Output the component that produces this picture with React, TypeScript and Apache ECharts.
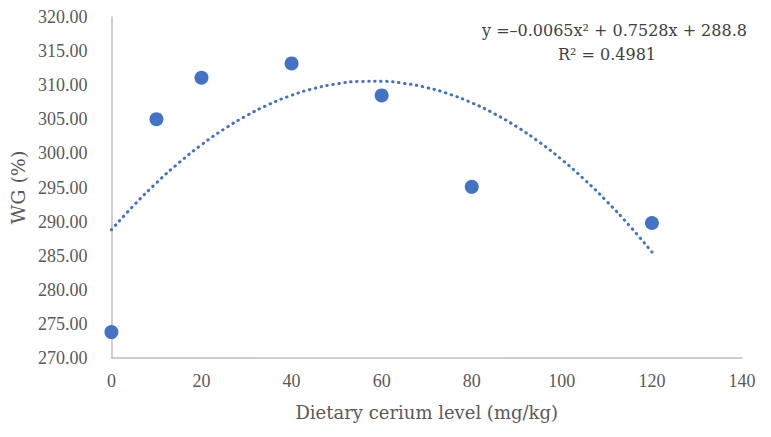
import React, { useEffect, useRef } from "react";
import * as echarts from "echarts";

const doseLevels = [0, 10, 20, 40, 60, 80, 120];
const wgValues = [273.8, 305.0, 311.1, 313.2, 308.5, 295.1, 289.8];
// Polynomial trendline coefficients as printed on the chart
const trendCoefficients = [-0.0065, 0.7528, 288.8];
const trendXs = [0, 5, 10, 15, 20, 25, 30, 35, 40, 45, 50, 55, 60, 65, 70, 75, 80, 85, 90, 95, 100, 105, 110, 115, 120];
const equationText = "y =–0.0065x² + 0.7528x + 288.8";
const r2Text = "R² = 0.4981";

const FONT = "'Liberation Serif', serif";
const WIDE = "'DejaVu Serif', serif";
const BLUE = "#4472C4";

export default function App() {
  const ref = useRef<HTMLDivElement>(null);
  useEffect(() => {
    if (!ref.current) return;
    const chart = echarts.init(ref.current, undefined, { renderer: "svg" });
    const [a, b, c] = trendCoefficients;
    const trend = trendXs.map((x) => [x, a * x * x + b * x + c]);
    chart.setOption({
      animation: false,
      backgroundColor: "#ffffff",
      grid: { left: 111, right: 29, top: 17, bottom: 79 },
      xAxis: {
        type: "value",
        min: 0,
        max: 140,
        interval: 20,
        name: "Dietary cerium level (mg/kg)",
        nameLocation: "middle",
        nameGap: 45,
        nameTextStyle: { fontFamily: WIDE, fontSize: 18, color: "#595959" },
        axisLine: { show: true, lineStyle: { color: "#bfbfbf", width: 1.5 } },
        axisTick: { show: false },
        splitLine: { show: false },
        axisLabel: { fontFamily: FONT, fontSize: 18, color: "#595959", margin: 14 },
      },
      yAxis: {
        type: "value",
        min: 270,
        max: 320,
        interval: 5,
        name: "WG (%)",
        nameLocation: "middle",
        nameGap: 82,
        nameRotate: 90,
        nameTextStyle: { fontFamily: WIDE, fontSize: 19, color: "#595959" },
        axisLine: { show: true, lineStyle: { color: "#bfbfbf", width: 1.5 } },
        axisTick: { show: false },
        splitLine: { show: false },
        axisLabel: {
          fontFamily: FONT,
          fontSize: 18,
          color: "#595959",
          margin: 24,
          formatter: (v: number) => v.toFixed(2),
        },
      },
      graphic: [
        {
          type: "text",
          left: 482,
          top: 22,
          style: { text: equationText, fontFamily: WIDE, fontSize: 16, fill: "#404040" },
        },
        {
          type: "text",
          left: 558,
          top: 46,
          style: { text: r2Text, fontFamily: WIDE, fontSize: 16, fill: "#404040" },
        },
      ],
      series: [
        {
          type: "line",
          data: trend,
          showSymbol: false,
          smooth: true,
          lineStyle: { color: BLUE, width: 3, type: [0.5, 5.5], cap: "round" },
          z: 1,
        },
        {
          type: "scatter",
          data: doseLevels.map((x, i) => [x, wgValues[i]]),
          symbolSize: 14,
          itemStyle: { color: BLUE, opacity: 1 },
          z: 2,
        },
      ],
    });
    return () => chart.dispose();
  }, []);
  return <div ref={ref} style={{ width: 771, height: 437, margin: -8 }} />;
}
